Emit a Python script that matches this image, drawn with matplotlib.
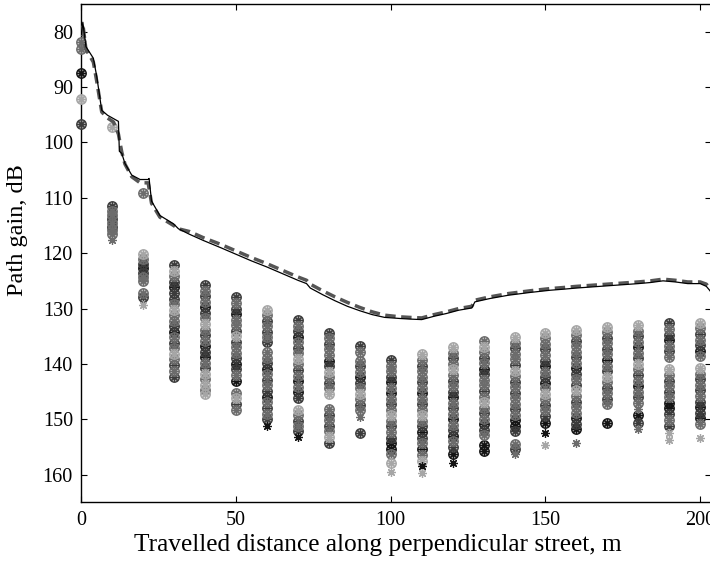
import matplotlib
matplotlib.use("Agg")
import matplotlib.pyplot as plt
from matplotlib.colors import to_rgba

plt.rcParams['font.family'] = ['Liberation Serif', 'DejaVu Serif']

# ---------------- data ----------------
solid_x = [0, 0.5, 1.5, 3.9, 5.0, 6.6, 8.5, 10.4, 12.0, 12.3,
           13.1, 14.1, 16.3, 19.0, 21.6, 21.9, 22.7, 25.4, 29.8, 31.4,
           35, 39.4, 45, 50, 55, 60, 65, 70, 72.8, 74,
           78, 82, 86, 90, 94, 98, 103, 106, 110, 114,
           118, 122, 126.2, 127.2, 132, 138, 145, 151.5, 156, 160,
           165, 170, 175, 180, 184, 188, 192, 196, 200, 202, 203.5]
solid_y = [80.5, 78.3, 82.7, 84.8, 88.1, 94.2, 95.1, 95.7, 96.2, 101.6,
           102.0, 103.8, 105.9, 106.7, 106.7, 106.5, 110.6, 113.2, 114.7, 115.6,
           116.6, 117.7, 119.0, 120.2, 121.4, 122.5, 123.7, 124.9, 125.5, 126.3,
           127.5, 128.6, 129.6, 130.4, 131.1, 131.6, 131.8, 131.9, 132.0, 131.4,
           130.9, 130.3, 129.9, 128.8, 128.2, 127.6, 127.1, 126.7, 126.5, 126.3,
           126.1, 125.9, 125.7, 125.5, 125.3, 125.0, 125.2, 125.5, 125.5, 126.0, 127.0]

dash_x = [0, 0.5, 1.5, 3.9, 5.0, 6.6, 8.5, 10.4, 12.0, 13.1,
          14.1, 16.3, 19.0, 21.6, 22.7, 25.4, 29.8, 31.4, 35, 39.4,
          45, 50, 55, 60, 65, 70, 72.8, 74, 78, 82,
          86, 90, 94, 98, 103, 106, 110, 114, 118, 122,
          126.2, 127.2, 132, 138, 145, 151.5, 156, 160, 165, 170,
          175, 180, 184, 188, 192, 196, 200, 202, 203.5]
dash_y = [80.8, 78.6, 83.2, 85.5, 89.0, 94.5, 95.6, 96.3, 98.5, 101.8,
          103.9, 106.2, 107.3, 107.3, 111.0, 113.5, 115.0, 115.6, 116.1, 117.2,
          118.4, 119.6, 120.8, 121.9, 123.1, 124.3, 124.9, 125.6, 126.8, 127.9,
          128.9, 129.8, 130.6, 131.2, 131.5, 131.6, 131.7, 131.1, 130.6, 130.0,
          129.6, 128.5, 127.9, 127.3, 126.8, 126.4, 126.2, 126.0, 125.8, 125.6,
          125.4, 125.2, 125.0, 124.7, 124.9, 125.2, 125.2, 125.6, 126.7]

# measured points per street position (circle + asterisk), with series shade code
col_000 = [81.9, 83.1, 87.5, 92.2, 96.7]
shd_000 = "mmkld"
col_010 = [97.3, 111.4, 112.3, 113.1, 113.8, 114.5, 115.2, 115.9, 116.5]
shd_010 = "ldmmdmdmm"
col_020 = [109.1, 120.1, 121.0, 121.9, 122.7, 123.5, 124.3, 125.1, 127.2, 127.9]
shd_020 = "mlmdkdmmmd"
col_030 = [122.2, 123.2, 124.2, 125.2, 126.2, 127.2, 128.2, 129.2, 130.2, 131.2, 132.2,
           133.2, 134.2, 135.2, 136.2, 137.2, 138.2, 139.2, 140.2, 141.3, 142.4]
shd_030 = "dlmdkddmlmmdkmdmlmdmd"
col_040 = [125.8, 126.8, 127.8, 128.8, 129.8, 130.8, 131.8, 132.8, 133.8, 134.8, 135.8,
           136.8, 137.8, 138.8, 139.8, 140.8, 141.8, 142.8, 143.8, 144.7, 145.5]
shd_040 = "dmdmkdmlmdmkdkmdlmlml"
col_050 = [128.0, 129.0, 130.0, 131.0, 132.0, 133.0, 134.0, 135.0, 136.0, 137.0,
           138.0, 139.0, 140.0, 141.0, 142.0, 143.0, 145.2, 146.2, 147.3, 148.3]
shd_050 = "dmdkmmdldmmdkdmkmldm"
col_060 = [130.2, 131.2, 132.2, 133.2, 134.2, 135.2, 136.1, 137.9, 138.9, 139.9,
           140.9, 141.9, 142.9, 143.9, 144.9, 145.9, 146.9, 147.9, 149.0, 150.0]
shd_060 = "lmdmdmdmmdkmdmdkmdmd"
col_070 = [132.1, 133.1, 134.1, 135.1, 136.1, 137.1, 138.1, 139.1, 140.1, 141.1,
           142.1, 143.1, 144.1, 145.1, 146.1, 148.3, 149.3, 150.3, 151.3, 152.2]
shd_070 = "dmdkmdmlmdmkmkdlmdmd"
col_080 = [134.4, 135.4, 136.4, 137.4, 138.4, 139.4, 140.4, 141.4, 142.4, 143.4,
           144.4, 145.4, 148.2, 149.2, 150.2, 151.2, 152.2, 153.2, 154.2]
shd_080 = "dmdmmkdlmdmlmdmdmld"
col_090 = [136.7, 137.8, 139.4, 140.4, 141.4, 142.4, 143.4, 144.4, 145.4, 146.4,
           147.4, 148.4, 152.5]
shd_090 = "dmmdmkdmlmdmd"
col_100 = [139.3, 140.3, 141.3, 142.3, 143.3, 144.3, 145.3, 146.3, 147.3, 148.3,
           149.3, 150.3, 151.3, 152.3, 153.3, 154.3, 155.3, 156.3, 157.9]
shd_100 = "dmmdkmkmdmlmdmdkkml"
col_110 = [138.3, 139.3, 140.3, 141.3, 142.3, 143.3, 144.3, 145.3, 146.3, 147.3,
           148.3, 149.3, 150.3, 151.3, 152.3, 153.3, 154.3, 155.3, 156.5, 157.6]
shd_110 = "lmdmmdmkmdmlmdkdmkml"
col_120 = [137.0, 138.0, 139.0, 140.0, 141.0, 142.0, 143.0, 144.0, 145.0, 146.0,
           147.0, 148.0, 149.0, 150.0, 151.0, 152.0, 153.0, 154.0, 155.0, 156.2]
shd_120 = "lmdmlmdmdkmdmkmdkmdk"
col_130 = [135.9, 136.9, 137.9, 138.9, 139.9, 140.9, 141.9, 142.9, 143.9, 144.9,
           145.9, 146.9, 147.9, 148.9, 149.9, 150.9, 151.9, 152.9, 154.6, 155.8]
shd_130 = "mlmdmkdmmdmlmdmkdmkk"
col_140 = [135.2, 136.2, 137.2, 138.2, 139.2, 140.2, 141.2, 142.2, 143.2, 144.2,
           145.2, 146.2, 147.2, 148.2, 149.2, 150.2, 151.2, 152.2, 154.4, 155.3]
shd_140 = "lmdmmdlmdmdmmdmkkdmd"
col_150 = [134.4, 135.4, 136.4, 137.4, 138.4, 139.4, 140.4, 141.4, 142.4, 143.4,
           144.4, 145.4, 146.4, 147.4, 148.4, 149.4, 150.6]
shd_150 = "lmmdmdkmdkmlmdmdk"
col_160 = [133.8, 134.8, 135.8, 136.8, 137.8, 138.8, 139.8, 140.8, 141.8, 142.8,
           143.8, 144.8, 145.8, 146.8, 147.8, 148.8, 149.8, 150.8, 151.7]
shd_160 = "lmdmmdmkdmdlmdmmkdk"
col_170 = [133.3, 134.3, 135.3, 136.3, 137.3, 138.3, 139.3, 140.3, 141.3, 142.3,
           143.3, 144.3, 145.3, 146.3, 147.3, 150.6]
shd_170 = "lmdmdmkmdlmdmdmk"
col_180 = [133.0, 134.0, 135.0, 136.0, 137.0, 138.0, 139.0, 140.0, 141.0, 142.0,
           143.0, 144.0, 145.0, 146.0, 147.0, 149.3, 150.6]
shd_180 = "lmdmkmdlmdmkmdmkd"
col_190 = [132.7, 133.7, 134.7, 135.7, 136.7, 137.7, 138.7, 141.0, 142.0, 143.0,
           144.0, 145.0, 146.0, 147.0, 148.0, 149.0, 150.2, 151.3]
shd_190 = "dmdkmdmlmdmdmkkdmd"
col_200 = [132.6, 133.6, 134.6, 135.6, 136.6, 137.6, 138.6, 140.8, 141.8, 142.8,
           143.8, 144.8, 145.8, 146.8, 147.8, 148.8, 149.8, 150.8]
shd_200 = "lmdmdkmlmdmdmdkdkm"

# asterisk-only points
star_x = [10, 20, 60, 70, 90, 100, 110, 110, 120, 140, 150, 150, 160, 180, 180, 190, 190, 200]
star_y = [117.7, 129.4, 151.3, 153.2, 149.6, 159.6, 158.4, 159.7, 157.9, 156.2,
          152.5, 154.7, 154.3, 148.2, 151.7, 152.4, 153.7, 153.4]
star_s = "mlkkmlklkmklmmmlll"

positions = [0, 10, 20, 30, 40, 50, 60, 70, 80, 90, 100,
             110, 120, 130, 140, 150, 160, 170, 180, 190, 200]
columns = [col_000, col_010, col_020, col_030, col_040, col_050, col_060, col_070,
           col_080, col_090, col_100, col_110, col_120, col_130, col_140, col_150,
           col_160, col_170, col_180, col_190, col_200]
shades = [shd_000, shd_010, shd_020, shd_030, shd_040, shd_050, shd_060, shd_070,
          shd_080, shd_090, shd_100, shd_110, shd_120, shd_130, shd_140, shd_150,
          shd_160, shd_170, shd_180, shd_190, shd_200]

# ---------------- style ----------------
palette = {'k': '#141414', 'd': '#3c3c3c', 'm': '#6c6c6c', 'l': '#a6a6a6'}
ASTER = (8, 2, 0)

fig = plt.figure(figsize=(7.1, 5.62), dpi=100)
ax = fig.add_axes([0.1145, 0.1062, 0.8869, 0.8867])

groups = {c: ([], []) for c in palette}
for xpos, ys, ss in zip(positions, columns, shades):
    assert len(ys) == len(ss), (xpos, len(ys), len(ss))
    for y, s in zip(ys, ss):
        groups[s][0].append(xpos)
        groups[s][1].append(y)

for c, (gx, gy) in groups.items():
    ax.plot(gx, gy, linestyle='none', marker='o', markersize=6.8,
            markerfacecolor=to_rgba(palette[c], 0.35), markeredgecolor=palette[c],
            markeredgewidth=1.0, clip_on=False, zorder=3)
    ax.plot(gx, gy, linestyle='none', marker=ASTER, markersize=6.2,
            markeredgecolor=palette[c], markeredgewidth=0.85,
            clip_on=False, zorder=3)

assert len(star_x) == len(star_y) == len(star_s)
for x, y, s in zip(star_x, star_y, star_s):
    ax.plot([x], [y], linestyle='none', marker=ASTER, markersize=6.2,
            markeredgecolor=palette[s], markeredgewidth=0.9, clip_on=False, zorder=3)

ax.plot(dash_x, dash_y, color='#555555', linewidth=2.5,
        linestyle=(0, (3.0, 1.6)), zorder=4)
ax.plot(solid_x, solid_y, color='black', linewidth=0.9, zorder=5)

ax.set_xlim(0, 203.5)
ax.set_ylim(165, 75)
ax.set_xticks([0, 50, 100, 150, 200])
ax.set_yticks([80, 90, 100, 110, 120, 130, 140, 150, 160])

ax.tick_params(direction='in', top=True, right=True, length=4.5, width=0.8,
               labelsize=14.5, pad=6)
for sp in ax.spines.values():
    sp.set_linewidth(1.0)

ax.set_xlabel('Travelled distance along perpendicular street, m', fontsize=18.3)
ax.set_ylabel('Path gain, dB', fontsize=17.5)
ax.xaxis.set_label_coords(0.471, -0.0857)
ax.xaxis.label.set_verticalalignment('center')
ax.yaxis.set_label_coords(-0.1008, 0.546)
ax.yaxis.label.set_verticalalignment('center')

fig.savefig('out.png', dpi=100)
